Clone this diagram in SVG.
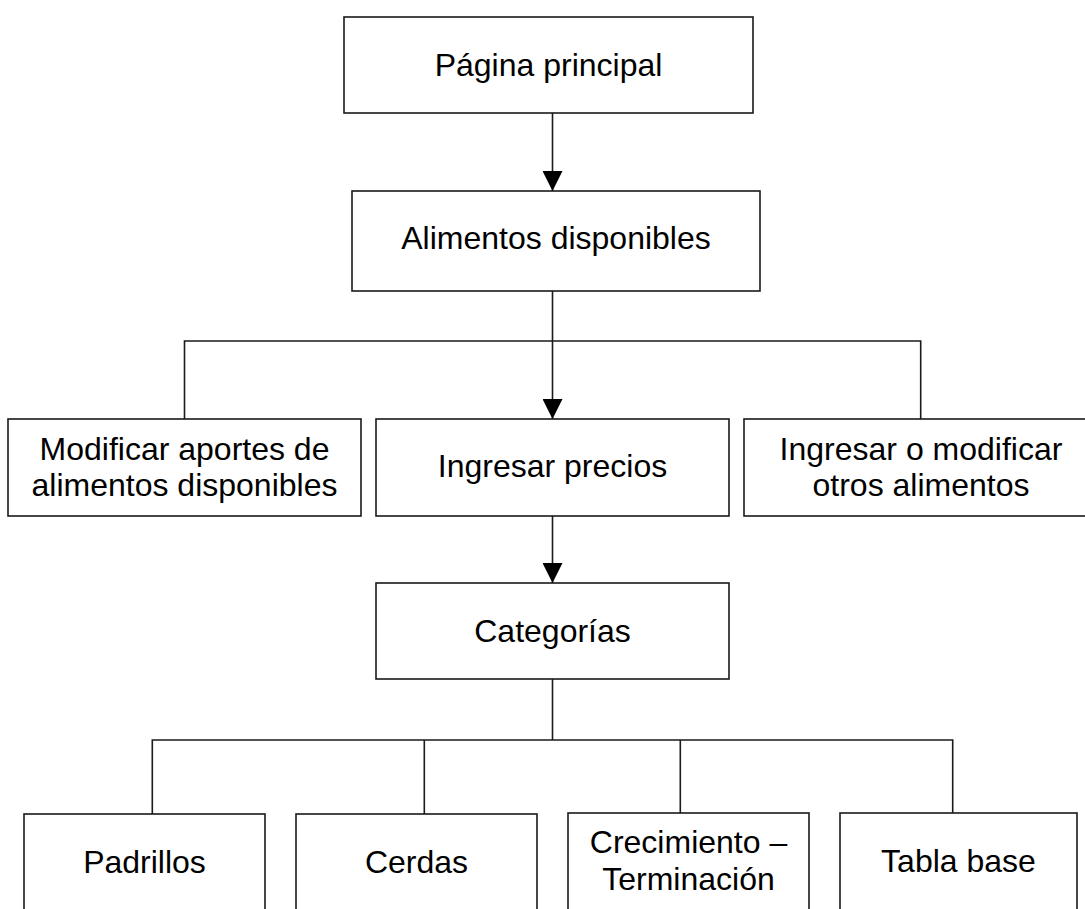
<svg xmlns="http://www.w3.org/2000/svg" width="1085" height="909" viewBox="0 0 1085 909">
<style>
.box{fill:#fff;stroke:#1a1a1a;stroke-width:1.6}
.lbl{font-family:"Liberation Sans",Arial,sans-serif;font-size:32px;fill:#000;text-anchor:middle}
.con{fill:none;stroke:#1a1a1a;stroke-width:1.6}
</style>
<defs>
<marker id="arr" markerUnits="userSpaceOnUse" markerWidth="20" markerHeight="20" viewBox="0 0 20 20" refX="20" refY="10" orient="auto">
<path d="M0,0 L20,10 L0,20 z" fill="#000"/>
</marker>
</defs>
<rect width="1085" height="909" fill="#fff"/>
<g id="connectors">
<line class="con" x1="552.5" y1="113" x2="552.5" y2="191" marker-end="url(#arr)"/>
<line class="con" x1="552.5" y1="291" x2="552.5" y2="419" marker-end="url(#arr)"/>
<polyline class="con" points="184.5,419 184.5,341 920.7,341 920.7,419"/>
<line class="con" x1="552.5" y1="516" x2="552.5" y2="583" marker-end="url(#arr)"/>
<line class="con" x1="552.5" y1="679" x2="552.5" y2="740"/>
<polyline class="con" points="152.3,814 152.3,740 952.7,740 952.7,814"/>
<line class="con" x1="424.3" y1="740" x2="424.3" y2="814"/>
<line class="con" x1="680.3" y1="740" x2="680.3" y2="814"/>
</g>
<g id="pagina-principal">
<rect class="box" x="344" y="17" width="409" height="96"/>
<text class="lbl" x="548.5" y="76">Página principal</text>
</g>
<g id="alimentos-disponibles">
<rect class="box" x="352" y="191" width="408" height="100"/>
<text class="lbl" x="556" y="249">Alimentos disponibles</text>
</g>
<g id="modificar-aportes">
<rect class="box" x="8" y="419" width="353" height="97"/>
<text class="lbl" x="184.5" y="460">Modificar aportes de</text>
<text class="lbl" x="184.5" y="496">alimentos disponibles</text>
</g>
<g id="ingresar-precios">
<rect class="box" x="376" y="419" width="353" height="97"/>
<text class="lbl" x="552.5" y="477">Ingresar precios</text>
</g>
<g id="ingresar-modificar-otros">
<rect class="box" x="744" y="419" width="350" height="97"/>
<text class="lbl" x="921" y="460">Ingresar o modificar</text>
<text class="lbl" x="921" y="496">otros alimentos</text>
</g>
<g id="categorias">
<rect class="box" x="376" y="583" width="353" height="96"/>
<text class="lbl" x="552.5" y="642">Categorías</text>
</g>
<g id="padrillos">
<rect class="box" x="24" y="814" width="241" height="110"/>
<text class="lbl" x="144.5" y="873">Padrillos</text>
</g>
<g id="cerdas">
<rect class="box" x="296" y="814" width="241" height="110"/>
<text class="lbl" x="416.5" y="873">Cerdas</text>
</g>
<g id="crecimiento-terminacion">
<rect class="box" x="568" y="813" width="241" height="110"/>
<text class="lbl" x="688.5" y="853">Crecimiento –</text>
<text class="lbl" x="688.5" y="890">Terminación</text>
</g>
<g id="tabla-base">
<rect class="box" x="840" y="813" width="237" height="110"/>
<text class="lbl" x="958.5" y="872">Tabla base</text>
</g>
</svg>
